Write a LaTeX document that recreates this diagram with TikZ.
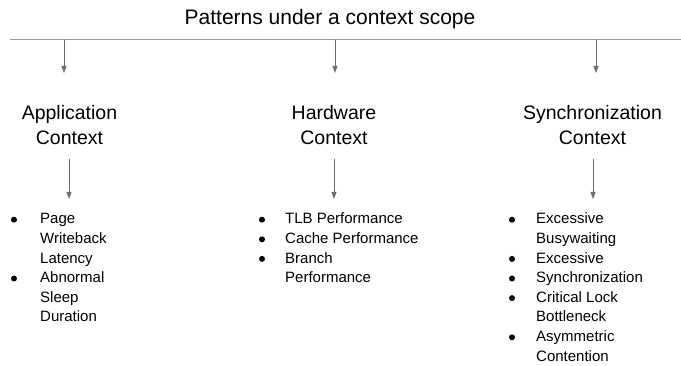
\documentclass[tikz,border=0pt]{standalone}
\usepackage{fontspec}
\setmainfont{Liberation Sans}
\usetikzlibrary{arrows.meta}
\definecolor{linegray}{HTML}{9A9A9A}
\definecolor{arrowgray}{HTML}{6E6E6E}
\begin{document}
\begin{tikzpicture}[x=1pt,y=-1pt,
  titlebox/.style={inner sep=0pt, anchor=base, font=\fontsize{21}{25}\selectfont},
  headbox/.style={align=center, inner sep=0pt, anchor=base, font=\fontsize{19.5}{24.5}\selectfont},
  listbox/.style={inner sep=0pt, anchor=base west, font=\fontsize{15}{19.6}\selectfont},
  bul/.style={fill=black},
  rule/.style={draw=linegray, line width=1pt},
  arr/.style={draw=arrowgray, line width=0.8pt, -{Triangle[length=7pt,width=5pt]}}]
\useasboundingbox (0,0) rectangle (681,366);

\node[titlebox] (title) at (330,25) {Patterns under a context scope};

\coordinate (ruleL) at (10,40);
\coordinate (ruleR) at (681,40);
\draw[rule] (ruleL) -- (ruleR);

\coordinate (a1s) at (64,40);  \coordinate (a1e) at (64,73);
\coordinate (a2s) at (335,40); \coordinate (a2e) at (335,73);
\coordinate (a3s) at (596,40); \coordinate (a3e) at (596,73);
\draw[arr] (a1s) -- (a1e);
\draw[arr] (a2s) -- (a2e);
\draw[arr] (a3s) -- (a3e);

\node[headbox] (h1) at (69.5,144.5) {Application\\Context};
\node[headbox] (h2) at (334,144.5) {Hardware\\Context};
\node[headbox] (h3) at (592.5,144.5) {Synchronization\\Context};

\coordinate (b1s) at (69,159);  \coordinate (b1e) at (69,199);
\coordinate (b2s) at (334,159); \coordinate (b2e) at (334,199);
\coordinate (b3s) at (593,159); \coordinate (b3e) at (593,199);
\draw[arr] (b1s) -- (b1e);
\draw[arr] (b2s) -- (b2e);
\draw[arr] (b3s) -- (b3e);

\node[listbox] (l1) at (40,224) {\begin{tabular}[t]{@{}l@{}}
Page\\ Writeback\\ Latency\\ Abnormal\\ Sleep\\ Duration\end{tabular}};
\foreach \r in {0,3} \fill[bul] (14,{219.7+19.6*\r}) circle (3pt);

\node[listbox] (l2) at (285,224) {\begin{tabular}[t]{@{}l@{}}
TLB Performance\\ Cache Performance\\ Branch\\ Performance\end{tabular}};
\foreach \r in {0,1,2} \fill[bul] (262,{219.7+19.6*\r}) circle (3pt);

\node[listbox] (l3) at (536,224) {\begin{tabular}[t]{@{}l@{}}
Excessive\\ Busywaiting\\ Excessive\\ Synchronization\\ Critical Lock\\ Bottleneck\\ Asymmetric\\ Contention\end{tabular}};
\foreach \r in {0,2,3,4,6} \fill[bul] (512,{219.7+19.6*\r}) circle (3pt);
\end{tikzpicture}
\end{document}
